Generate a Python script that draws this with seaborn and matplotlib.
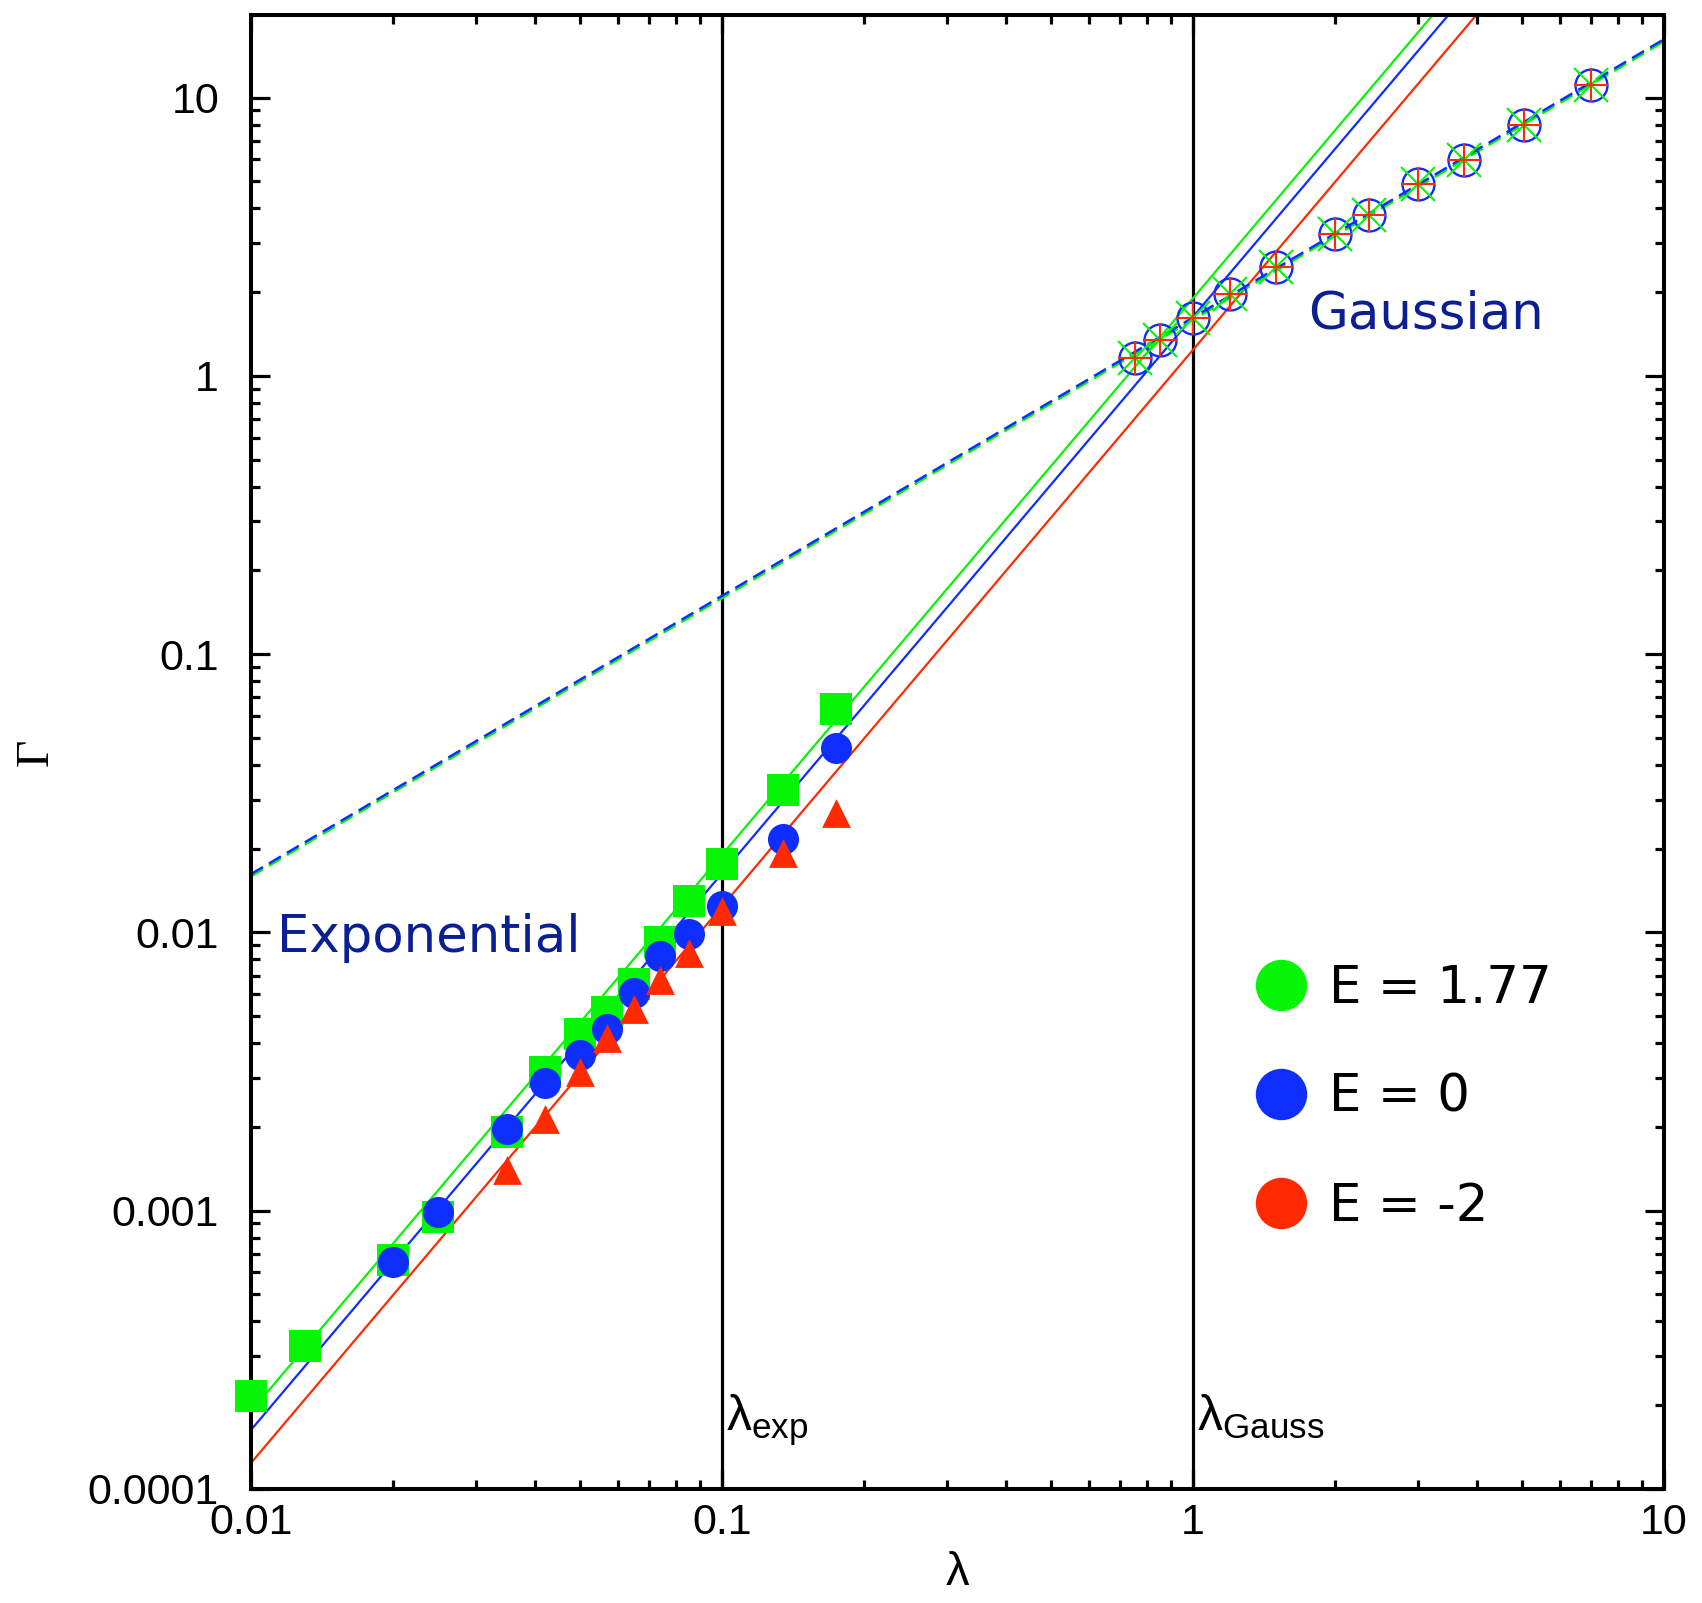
import matplotlib
matplotlib.use("Agg")
import matplotlib.pyplot as plt
import seaborn as sns
import numpy as np
from matplotlib.lines import Line2D
from matplotlib.ticker import FixedLocator, LogLocator, FuncFormatter, NullFormatter

# exponential regime data (lambda, Gamma) per energy
lam_green = [0.01, 0.013, 0.02, 0.025, 0.035, 0.042, 0.05, 0.057, 0.065, 0.074, 0.085, 0.1, 0.135, 0.175]
gam_green = [2.16e-4, 3.27e-4, 6.65e-4, 9.5e-4, 1.92e-3, 3.15e-3, 4.31e-3, 5.19e-3, 6.53e-3, 9.25e-3,
             0.0130, 0.0176, 0.0324, 0.0636]

lam_blue = [0.02, 0.025, 0.035, 0.042, 0.05, 0.057, 0.065, 0.074, 0.085, 0.1, 0.135, 0.175]
gam_blue = [6.55e-4, 9.9e-4, 1.97e-3, 2.88e-3, 3.62e-3, 4.5e-3, 6.05e-3, 8.23e-3, 9.87e-3, 0.01245,
            0.0216, 0.046]

lam_red = [0.035, 0.042, 0.05, 0.057, 0.065, 0.074, 0.085, 0.1, 0.135, 0.175]
gam_red = [1.40e-3, 2.14e-3, 3.15e-3, 4.17e-3, 5.31e-3, 6.74e-3, 8.4e-3, 0.0119, 0.0193, 0.0269]

# gaussian regime (all three energies coincide)
lam_gauss = [0.752, 0.853, 1.0, 1.197, 1.504, 2.0, 2.36, 3.0, 3.77, 5.04, 7.01]
gam_gauss = [1.16, 1.35, 1.62, 1.97, 2.47, 3.23, 3.79, 4.88, 5.98, 7.99, 11.1]

# fit lines, end points
fit_lam = [0.01, 10.0]
fit_green = [1.9e-4, 190.0]
fit_blue = [1.63e-4, 163.0]
fit_red = [1.24e-4, 124.0]
gauss_fit_green = [0.0159, 15.9]
gauss_fit_blue = [0.0162, 16.2]

lam_exp, lam_gauss_line = 0.1, 1.0
energies = ["E = 1.77", "E = 0", "E = -2"]

GREEN = "#05f505"
BLUE = "#0d2eff"
RED = "#ff2a00"
NAVY = "#0b1f94"

sns.set_style("ticks")
plt.rcParams["font.family"] = ["Liberation Sans", "DejaVu Sans"]
plt.rcParams["mathtext.fontset"] = "custom"
plt.rcParams["mathtext.rm"] = "Liberation Sans"
plt.rcParams["lines.scale_dashes"] = False
for key in ("text.color", "axes.labelcolor", "xtick.color", "ytick.color"):
    plt.rcParams[key] = "black"

fig = plt.figure(figsize=(17.02, 16.03), dpi=100)
ax = fig.add_axes([251 / 1702, 1 - 1489 / 1603, 1413 / 1702, 1474 / 1603])
ax.set_xscale("log")
ax.set_yscale("log")

ax.axvline(lam_exp, color="black", lw=2.3, zorder=1)
ax.axvline(lam_gauss_line, color="black", lw=2.3, zorder=1)

sns.lineplot(x=fit_lam, y=fit_green, color=GREEN, lw=1.6, ax=ax, zorder=2)
sns.lineplot(x=fit_lam, y=fit_blue, color=BLUE, lw=1.6, ax=ax, zorder=2)
sns.lineplot(x=fit_lam, y=fit_red, color=RED, lw=1.6, ax=ax, zorder=2)
sns.lineplot(x=fit_lam, y=gauss_fit_green, color=GREEN, lw=1.8, ax=ax, zorder=2)
ax.lines[-1].set_dashes([10, 5])
sns.lineplot(x=fit_lam, y=gauss_fit_blue, color=BLUE, lw=1.8, ax=ax, zorder=2)
ax.lines[-1].set_dashes([10, 5])

sns.scatterplot(x=lam_green, y=gam_green, marker="s", s=500, color=GREEN, linewidth=0,
                ax=ax, zorder=3, clip_on=False)
sns.scatterplot(x=lam_blue, y=gam_blue, marker="o", s=500, color=BLUE, linewidth=0,
                ax=ax, zorder=4, clip_on=False)
sns.scatterplot(x=lam_red, y=gam_red, marker="^", s=430, color=RED, linewidth=0,
                ax=ax, zorder=5, clip_on=False)

ax.plot(lam_gauss, gam_gauss, ls="", marker="o", ms=23, mfc="none", mec=BLUE, mew=1.7, zorder=4)
ax.plot(lam_gauss, gam_gauss, ls="", marker="x", ms=25, mec=GREEN, mew=1.5, zorder=5)
ax.plot(lam_gauss, gam_gauss, ls="", marker="+", ms=24, mec=RED, mew=1.5, zorder=6)

ax.set_xlim(0.01, 10)
ax.set_ylim(1e-4, 19.8)

fmt = FuncFormatter(lambda v, p: f"{v:g}")
ax.xaxis.set_major_locator(FixedLocator([0.01, 0.1, 1, 10]))
ax.yaxis.set_major_locator(FixedLocator([1e-4, 1e-3, 1e-2, 0.1, 1, 10]))
ax.xaxis.set_major_formatter(fmt)
ax.yaxis.set_major_formatter(fmt)
ax.xaxis.set_minor_locator(LogLocator(base=10, subs=np.arange(2, 10), numticks=20))
ax.yaxis.set_minor_locator(LogLocator(base=10, subs=np.arange(2, 10), numticks=20))
ax.xaxis.set_minor_formatter(NullFormatter())
ax.yaxis.set_minor_formatter(NullFormatter())

ax.tick_params(which="both", direction="in", top=True, right=True, width=2.3, color="black")
ax.tick_params(which="major", length=13.5, labelsize=31)
ax.tick_params(which="minor", length=6.5)
ax.tick_params(axis="x", which="major", pad=10)
ax.tick_params(axis="y", which="major", pad=23)
for sp in ax.spines.values():
    sp.set_linewidth(2.9)
    sp.set_color("black")

ax.set_xlabel("λ", fontsize=34, labelpad=6)
ax.set_ylabel("Γ", fontsize=34, labelpad=22, family=["Liberation Serif", "DejaVu Serif"])

ax.text(0.102, 1.62e-4, r"$\mathregular{\lambda_{exp}}$", fontsize=36, va="baseline", ha="left")
ax.text(1.02, 1.62e-4, r"$\mathregular{\lambda_{Gauss}}$", fontsize=36, va="baseline", ha="left")

ax.text(0.01135, 8.5e-3, "Exponential", color=NAVY, fontsize=37, family="DejaVu Sans",
        va="baseline", ha="left")
ax.text(1.753, 1.485, "Gaussian", color=NAVY, fontsize=37, family="DejaVu Sans",
        va="baseline", ha="left")

handles = [Line2D([], [], ls="", marker="o", ms=37, color=c, mec="none")
           for c in (GREEN, BLUE, RED)]
ax.legend(handles, energies, loc="upper left", bbox_to_anchor=(0.7105, 0.3565), frameon=False,
          borderaxespad=0, borderpad=0, handlelength=1.0, handletextpad=0.45,
          labelspacing=1.15, labelcolor="black", prop={"family": "DejaVu Sans", "size": 37})

fig.savefig("out.png", dpi=100)
